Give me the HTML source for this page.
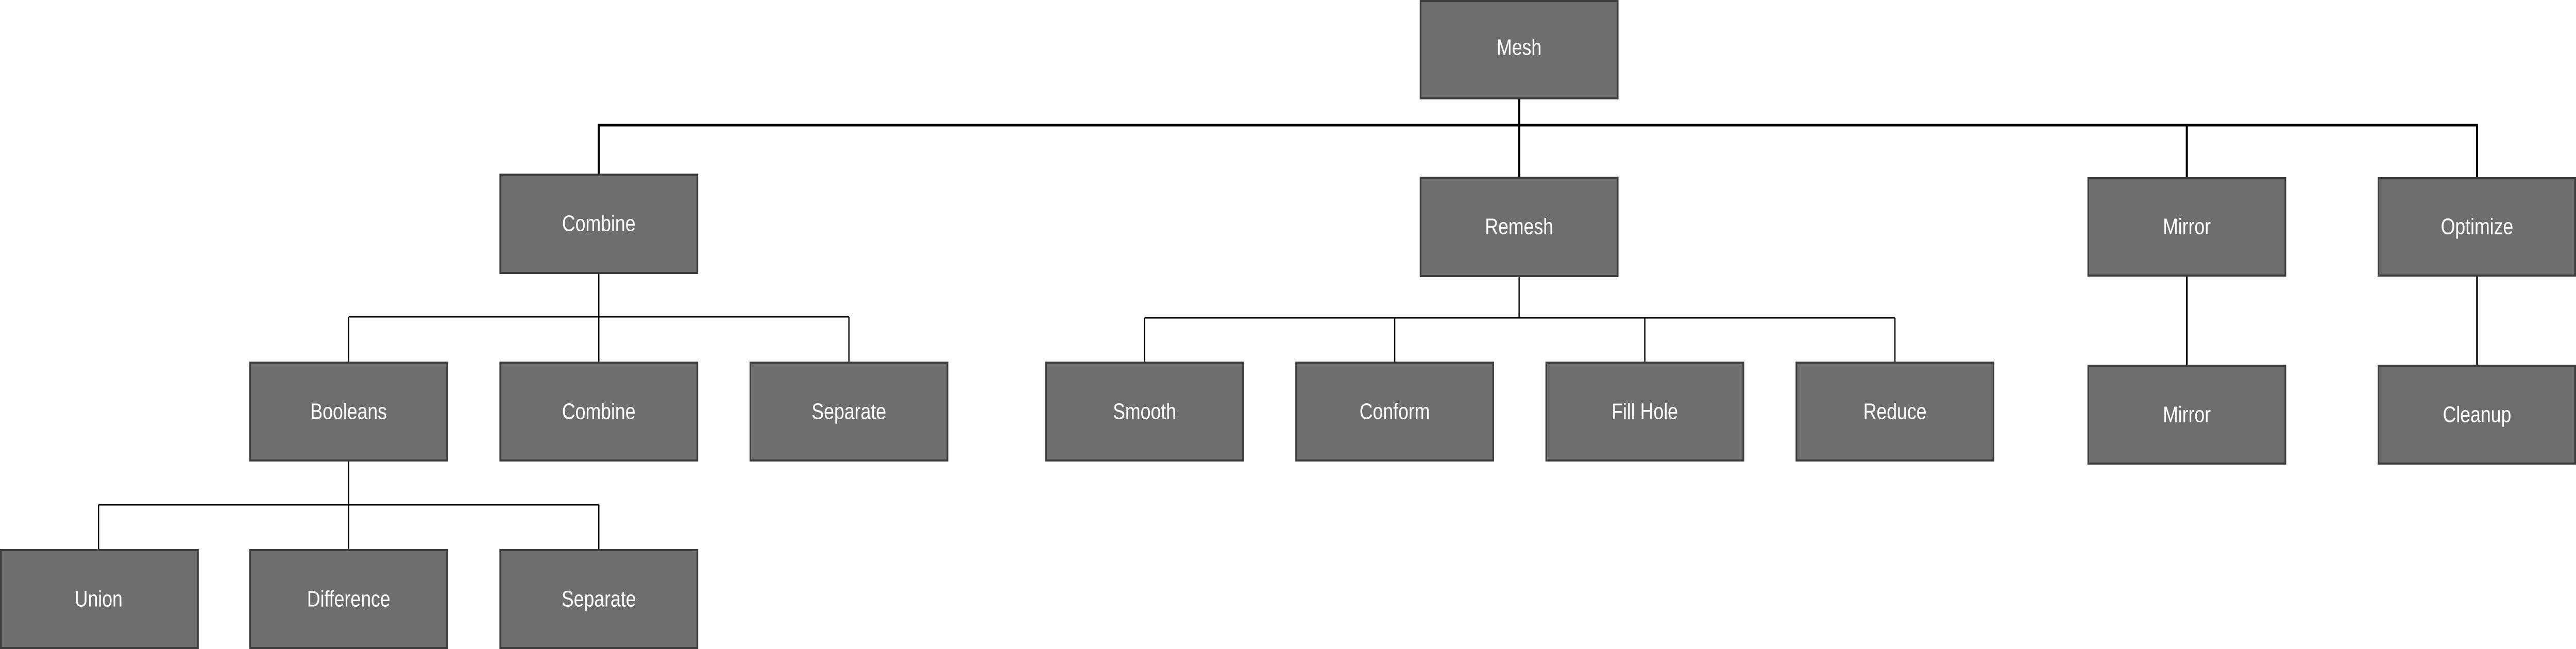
<!DOCTYPE html>
<html><head><meta charset="utf-8"><style>
html,body{margin:0;padding:0;background:#fff;width:100%;height:100%;overflow:hidden;}
svg{position:absolute;left:0;top:0;width:100vw;height:100vh;display:block;}
text{font-family:"Liberation Sans",sans-serif;font-size:44px;fill:#fff;text-anchor:middle;dominant-baseline:central;}
rect{fill:#6e6e6e;stroke:#3c3c3c;stroke-width:4;}
</style></head><body>
<svg viewBox="0 0 6169 1260" preserveAspectRatio="none">
<g stroke="#000" fill="none">
<path d="M3638 191V345M1434 339V243H5932V346M5237 243V346" stroke-width="5"/>
<path d="M1434 530V615M835 615H2033M835 615V704M2033 615V704M1434 615V704" stroke-width="3"/>
<path d="M835 894V980M236 980H1434M236 980V1068M835 980V1068M1434 980V1068" stroke-width="3"/>
<path d="M3638 536V617M2741 617H4538M2741 617V704M3340 617V704M3939 617V704M4538 617V704" stroke-width="3"/>
<path d="M5237 535V710M5932 535V710" stroke-width="4"/>
</g>
<rect x="3402" y="2" width="472" height="189"/><text x="3638" y="92">Mesh</text>
<rect x="1198" y="339" width="472" height="191"/><text x="1434" y="434">Combine</text>
<rect x="3402" y="345" width="472" height="191"/><text x="3638" y="440">Remesh</text>
<rect x="5001" y="346" width="472" height="189"/><text x="5237" y="440">Mirror</text>
<rect x="5696" y="346" width="471" height="189"/><text x="5932" y="440">Optimize</text>
<rect x="599" y="704" width="472" height="190"/><text x="835" y="799">Booleans</text>
<rect x="1198" y="704" width="472" height="190"/><text x="1434" y="799">Combine</text>
<rect x="1797" y="704" width="472" height="190"/><text x="2033" y="799">Separate</text>
<rect x="2505" y="704" width="472" height="190"/><text x="2741" y="799">Smooth</text>
<rect x="3104" y="704" width="472" height="190"/><text x="3340" y="799">Conform</text>
<rect x="3703" y="704" width="472" height="190"/><text x="3939" y="799">Fill Hole</text>
<rect x="4302" y="704" width="472" height="190"/><text x="4538" y="799">Reduce</text>
<rect x="5001" y="710" width="472" height="190"/><text x="5237" y="805">Mirror</text>
<rect x="5696" y="710" width="471" height="190"/><text x="5932" y="805">Cleanup</text>
<rect x="2" y="1068" width="472" height="190"/><text x="236" y="1163">Union</text>
<rect x="599" y="1068" width="472" height="190"/><text x="835" y="1163">Difference</text>
<rect x="1198" y="1068" width="472" height="190"/><text x="1434" y="1163">Separate</text>
</svg>
</body></html>
